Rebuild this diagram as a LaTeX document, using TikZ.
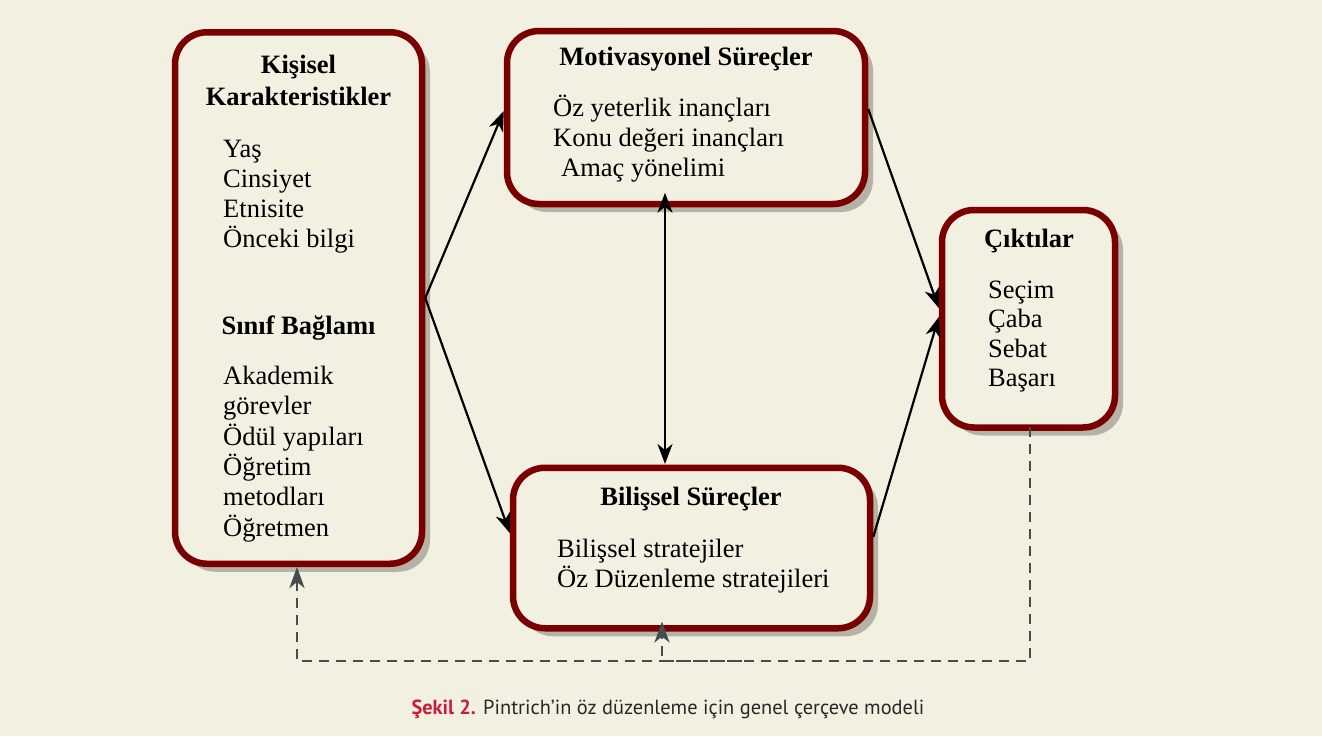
\documentclass[tikz,border=0pt]{standalone}
\usepackage{fontspec}
\setmainfont{Liberation Serif}
\newfontfamily\capfont{PT Sans}
\usetikzlibrary{arrows.meta, calc, shadows}

\definecolor{bgbeige}{RGB}{242,240,225}
\definecolor{boxred}{RGB}{122,0,0}
\definecolor{shadowgray}{RGB}{181,179,166}
\definecolor{dashgray}{RGB}{68,78,76}
\definecolor{capred}{RGB}{200,30,60}
\definecolor{captext}{RGB}{40,40,40}

\begin{document}
\begin{tikzpicture}[
    x=1pt, y=-1pt,
    box/.style={draw=boxred, line width=6.5pt, fill=bgbeige, rounded corners=32pt, inner sep=0pt,
                drop shadow={shadow xshift=8pt, shadow yshift=-8pt, fill=shadowgray, opacity=1}},
    head/.style={anchor=base, inner sep=0pt, font=\bfseries\fontsize{26.5}{30}\selectfont},
    body/.style={anchor=base west, inner sep=0pt, font=\fontsize{26.5}{30}\selectfont},
    arr/.style={line width=2.2pt, -{Stealth[length=20pt, width=15pt, inset=6pt]}},
    dbl/.style={line width=2.2pt, {Stealth[length=20pt, width=15pt, inset=6pt]}-{Stealth[length=20pt, width=15pt, inset=6pt]}},
    fb/.style={dashgray, line width=2.8pt, dash pattern=on 10pt off 7pt},
    fbarr/.style={fb, -{Stealth[length=21pt, width=15pt, inset=6pt]}},
]
    % Page background
    \path[use as bounding box, fill=bgbeige] (0,0) rectangle (1322,736);

    % Boxes
    \node[box, minimum width=247pt, minimum height=531.5pt] (kisisel) at (298.5,298) {};
    \node[box, minimum width=358pt, minimum height=173pt]   (motiv)   at (686,117.5) {};
    \node[box, minimum width=357pt, minimum height=160.5pt] (bilis)   at (691.5,548) {};
    \node[box, minimum width=173pt, minimum height=217.5pt] (cikti)   at (1028.5,318.75) {};

    % Left box: headings and items
    \node[head] (kh1) at (298.5,73)  {Kişisel};
    \node[head] (kh2) at (298.5,105) {Karakteristikler};
    \foreach \t/\yy [count=\i] in {Yaş/157, Cinsiyet/187, Etnisite/217, Önceki bilgi/247}
      \node[body] (ka-\i) at (223,\yy) {\t};
    \node[head] (kh3) at (298.5,334) {Sınıf Bağlamı};
    \foreach \t/\yy [count=\i] in {Akademik/384, görevler/414, Ödül yapıları/445,
                                    Öğretim/475, metodları/505, Öğretmen/536}
      \node[body] (kb-\i) at (223,\yy) {\t};

    % Motivation box
    \node[head] (mh) at (686,65) {Motivasyonel Süreçler};
    \node[body] (m-1) at (553,116) {Öz yeterlik inançları};
    \node[body] (m-2) at (553,146) {Konu değeri inançları};
    \node[body] (m-3) at (561,176) {Amaç yönelimi};

    % Cognitive box
    \node[head] (bh) at (691,505) {Bilişsel Süreçler};
    \node[body] (b-1) at (557,557) {Bilişsel stratejiler};
    \node[body] (b-2) at (557,587) {Öz Düzenleme stratejileri};

    % Outcomes box
    \node[head] (ch) at (1029,247) {Çıktılar};
    \foreach \t/\yy [count=\i] in {Seçim/298, Çaba/327, Sebat/357, Başarı/386}
      \node[body] (c-\i) at (988,\yy) {\t};

    % Solid arrows
    \draw[arr] (kisisel.east) -- ($(motiv.west)+(0,-6.5)$);
    \draw[arr] (kisisel.east) -- ($(bilis.west)+(0,-15)$);
    \draw[arr] ($(motiv.east)+(0,-8.5)$) -- ($(cikti.west)+(0,-10.75)$);
    \draw[arr] ($(bilis.east)+(0,-11)$) -- ($(cikti.west)+(0,-1.75)$);
    \draw[dbl] ($(motiv.south)+(-21,-14.5)$) -- ($(bilis.north)+(-26.5,-0.5)$);

    % Feedback (dashed)
    \coordinate (fbstart) at ($(cikti.south)+(1.5,-4)$);
    \coordinate (fbline)  at (0,661);
    \coordinate (fbktip)  at ($(kisisel.south)+(-1.5,0)$);
    \coordinate (fbjoin)  at (742,661);
    \coordinate (fbbtip)  at ($(bilis.south)+(-29.5,-10)$);
    \draw[fbarr] (fbstart) -- (fbstart |- fbline) -- (fbktip |- fbline) -- (fbktip);
    \draw[fbarr] (fbjoin) -- (fbbtip |- fbline) -- (fbbtip);

    % Caption
    \node[anchor=base, inner sep=0pt, font=\capfont\fontsize{20.4}{24}\selectfont] (caption) at (668,714)
      {\textcolor{capred}{\bfseries Şekil 2.} \textcolor{captext}{Pintrich’in öz düzenleme için genel çerçeve modeli}};
\end{tikzpicture}
\end{document}
